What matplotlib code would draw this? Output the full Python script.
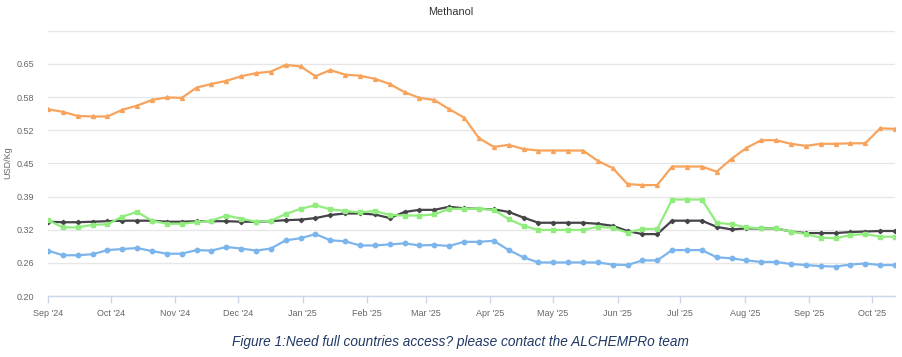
import numpy as np
import pandas as pd
import matplotlib
matplotlib.use("Agg")
import matplotlib.pyplot as plt

# weekly price points, Sep 2024 -> Oct 2025 (USD/Kg)
dates = pd.date_range("2024-09-01", "2025-10-12", periods=58)

orange = [0.562, 0.557, 0.549, 0.548, 0.548, 0.561, 0.569, 0.580, 0.585, 0.584,
          0.604, 0.611, 0.617, 0.626, 0.632, 0.635, 0.648, 0.645, 0.626, 0.638,
          0.629, 0.627, 0.621, 0.611, 0.595, 0.584, 0.580, 0.562,
          0.546, 0.506, 0.489, 0.493, 0.485, 0.482, 0.482, 0.482, 0.482, 0.462,
          0.448, 0.417, 0.415, 0.415, 0.451, 0.451, 0.451, 0.441, 0.466, 0.487,
          0.502, 0.502, 0.495, 0.491, 0.495, 0.495, 0.496, 0.496, 0.525, 0.524]

black = [0.344, 0.343, 0.343, 0.344, 0.345, 0.346, 0.346, 0.346, 0.344, 0.344,
         0.345, 0.345, 0.345, 0.344, 0.344, 0.345, 0.347, 0.348, 0.351, 0.357,
         0.360, 0.360, 0.358, 0.351, 0.363, 0.367, 0.367, 0.373,
         0.370, 0.369, 0.368, 0.363, 0.352, 0.342, 0.342, 0.342, 0.342, 0.340,
         0.336, 0.326, 0.320, 0.320, 0.346, 0.346, 0.346, 0.334, 0.329, 0.331,
         0.331, 0.331, 0.325, 0.322, 0.322, 0.322, 0.324, 0.325, 0.326, 0.326]

green = [0.347, 0.333, 0.333, 0.338, 0.339, 0.354, 0.363, 0.346, 0.340, 0.340,
         0.343, 0.346, 0.356, 0.350, 0.344, 0.346, 0.359, 0.369, 0.376, 0.368,
         0.365, 0.362, 0.365, 0.357, 0.356, 0.356, 0.358, 0.369,
         0.369, 0.369, 0.367, 0.349, 0.336, 0.328, 0.328, 0.328, 0.328, 0.334,
         0.332, 0.323, 0.330, 0.330, 0.387, 0.387, 0.387, 0.342, 0.339, 0.333,
         0.331, 0.331, 0.325, 0.320, 0.313, 0.312, 0.318, 0.320, 0.315, 0.315]

blue = [0.288, 0.279, 0.279, 0.281, 0.289, 0.291, 0.293, 0.287, 0.282, 0.282,
        0.289, 0.288, 0.295, 0.292, 0.288, 0.292, 0.308, 0.312, 0.320, 0.308,
        0.306, 0.298, 0.298, 0.300, 0.302, 0.298, 0.299, 0.297,
        0.305, 0.305, 0.307, 0.289, 0.275, 0.265, 0.265, 0.265, 0.265, 0.265,
        0.261, 0.260, 0.269, 0.269, 0.289, 0.289, 0.289, 0.275, 0.273, 0.269,
        0.266, 0.266, 0.262, 0.260, 0.258, 0.257, 0.261, 0.263, 0.260, 0.260]

y_labels = ["0.20", "0.26", "0.32", "0.39", "0.45", "0.52", "0.58", "0.65", ""]
month_ticks = pd.date_range("2024-09-01", "2025-10-01", freq="MS")
month_labels = [d.strftime("%b '%y") for d in month_ticks]

plt.rcParams["font.family"] = ["Liberation Sans", "DejaVu Sans"]

fig = plt.figure(figsize=(9.03, 3.57), dpi=100)
ax = fig.add_axes([48 / 903, 1 - 296 / 357, (895 - 48) / 903, (296 - 30.7) / 357])

# highcharts-like series styling
ax.plot(dates, blue, color="#7cb5ec", lw=1.6, marker="o", ms=3.2, zorder=3)
ax.plot(dates, black, color="#434348", lw=1.6, marker="D", ms=2.2, zorder=4)
ax.plot(dates, green, color="#90ed7d", lw=1.6, marker="s", ms=3.0, zorder=5)
ax.plot(dates, orange, color="#f7a35c", lw=1.6, marker="^", ms=2.8, zorder=6)

yticks = np.linspace(0.2, 0.2 + 8 * 0.45 / 7, 9)
ax.set_ylim(yticks[0], yticks[-1])
ax.set_yticks(yticks)
ax.set_yticklabels(y_labels)
ax.set_xlim(dates[0], dates[-1])
ax.set_xticks(month_ticks)
ax.set_xticklabels(month_labels)

ax.grid(axis="y", color="#e6e6e6", lw=0.9)
ax.set_axisbelow(True)
for s in ["top", "right", "left"]:
    ax.spines[s].set_visible(False)
ax.spines["bottom"].set_color("#ccd6eb")
ax.spines["bottom"].set_linewidth(1.0)
ax.tick_params(axis="y", length=0, pad=10, labelsize=6.5, labelcolor="#666666")
ax.tick_params(axis="x", length=5, width=1, color="#ccd6eb", pad=4,
               labelsize=6.5, labelcolor="#666666")

fig.text(8 / 903, 1 - 163 / 357, "USD/Kg", rotation=90, ha="center", va="center",
         fontsize=6.5, color="#666666")
fig.text(451 / 903, 1 - 12 / 357, "Methanol", ha="center", va="center",
         fontsize=7.8, color="#333333")
fig.text(460 / 903, 1 - 342 / 357,
         "Figure 1:Need full countries access? please contact the ALCHEMPRo team",
         ha="center", va="center", fontsize=9.8, style="italic", color="#1f3864")

fig.savefig("out.png", dpi=100)
